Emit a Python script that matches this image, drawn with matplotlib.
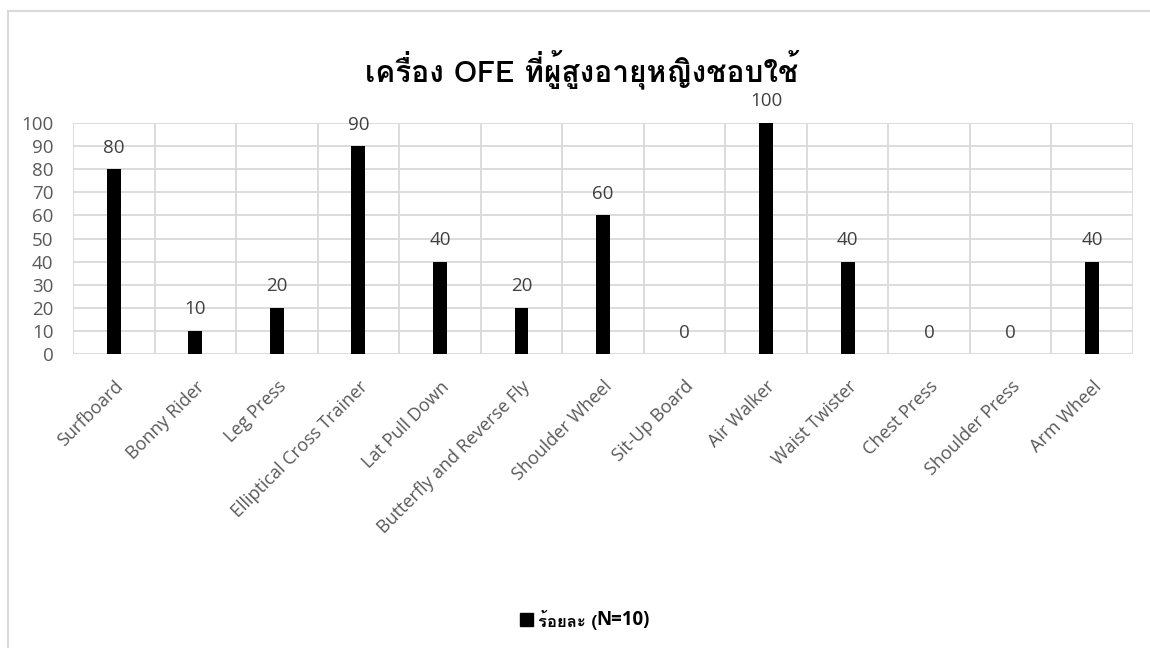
import matplotlib
matplotlib.use("Agg")
import matplotlib.pyplot as plt
from matplotlib import font_manager
from matplotlib.patches import Rectangle
import numpy as np

categories = ["Surfboard", "Bonny Rider", "Leg Press", "Elliptical Cross Trainer",
              "Lat Pull Down", "Butterfly and Reverse Fly", "Shoulder Wheel",
              "Sit-Up Board", "Air Walker", "Waist Twister", "Chest Press",
              "Shoulder Press", "Arm Wheel"]
values = [80, 10, 20, 90, 40, 20, 60, 0, 100, 40, 0, 0, 40]
yticks = [0, 10, 20, 30, 40, 50, 60, 70, 80, 90, 100]
title = "เครื่อง OFE ที่ผู้สูงอายุหญิงชอบใช้"
legend_thai = "ร้อยละ ("
legend_bold = "N=10)"

# find a font covering Thai
thai_family = None
try:
    from fontTools.ttLib import TTFont
    for fe in font_manager.fontManager.ttflist:
        try:
            f = TTFont(fe.fname, fontNumber=0, lazy=True)
            cmap = f.getBestCmap()
            if cmap and 0x0E40 in cmap and 0x0E2D in cmap:
                thai_family = fe.name
                break
        except Exception:
            continue
except Exception:
    pass

latin = "Open Sans"
fam = [thai_family, latin, "DejaVu Sans"] if thai_family else [latin, "DejaVu Sans"]
plt.rcParams['font.family'] = [latin, "DejaVu Sans"]

W, H = 1150, 648
fig = plt.figure(figsize=(W / 100, H / 100), dpi=100)
fig.patch.set_facecolor("white")

# outer border
fig.patches.append(Rectangle((8 / W, -0.05), 1.0, (H - 11) / H + 0.05, transform=fig.transFigure,
                             fill=False, edgecolor="#d9d9d9", linewidth=1.5))

ax_left, ax_right, ax_top, ax_bottom = 73, 1133, 123, 354
ax = fig.add_axes([ax_left / W, 1 - ax_bottom / H, (ax_right - ax_left) / W, (ax_bottom - ax_top) / H])

x = np.arange(len(categories))
ax.bar(x, values, width=0.17, color="black", zorder=3)
for xi, v in zip(x, values):
    ax.annotate(str(v), (xi, v), xytext=(0, 9), textcoords="offset points",
                ha="center", va="bottom", fontsize=13.5, color="#404040")

ax.set_xlim(-0.5, len(categories) - 0.5)
ax.set_ylim(0, 100)
ax.set_yticks(yticks)
ax.set_yticklabels([str(t) for t in yticks], fontsize=13.5, color="#595959")
ax.set_xticks(x)
ax.set_xticklabels(categories, rotation=45, ha="right", rotation_mode="anchor",
                   fontsize=13, color="#595959")
ax.tick_params(axis="both", length=0)
ax.tick_params(axis="x", pad=17)
ax.tick_params(axis="y", pad=14)

for yy in yticks:
    ax.axhline(yy, color="#d9d9d9", linewidth=1.3, zorder=1)
for b in np.arange(-0.5, len(categories), 1.0):
    ax.axvline(b, color="#d9d9d9", linewidth=1.3, zorder=1)
for s in ax.spines.values():
    s.set_visible(False)

fig.text(582 / W, 1 - 70 / H, title, ha="center", va="center", fontsize=21.5,
         fontweight="bold", color="black", family=fam)

# legend
fig.patches.append(Rectangle((520 / W, 1 - 626 / H), 13 / W, 13 / H, transform=fig.transFigure,
                             facecolor="black", edgecolor="black"))
t1 = fig.text(538 / W, 1 - 620 / H, legend_thai, ha="left", va="center", fontsize=12,
              fontweight="bold", color="black", family=fam)
fig.canvas.draw()
bb = t1.get_window_extent()
fig.text((bb.x1 - 1) / W, 1 - 620 / H, legend_bold, ha="left", va="center", fontsize=13.5,
         fontweight="bold", color="black", family=[latin, "DejaVu Sans"])

fig.savefig("out.png", dpi=100)
